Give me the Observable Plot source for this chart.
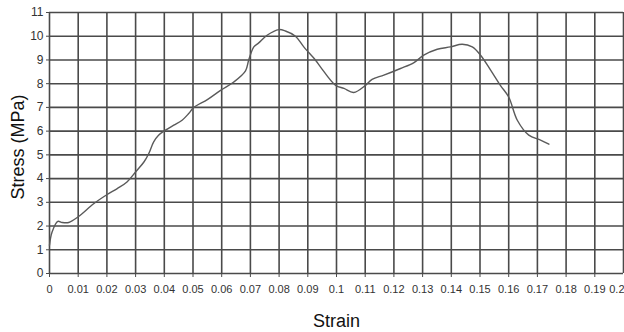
<!DOCTYPE html>
<html>
<head>
<meta charset="utf-8">
<script src="https://cdn.jsdelivr.net/npm/d3@7"></script>
<script src="https://cdn.jsdelivr.net/npm/@observablehq/plot@0.6"></script>
<style>
  html, body { margin: 0; padding: 0; background: #fff; }
  #chart svg { display: block; }
</style>
</head>
<body>
<div id="chart"></div>
<script>
const strain = [0, 0.0009, 0.0029, 0.0044, 0.0067, 0.01, 0.0155, 0.0201, 0.0236, 0.027, 0.030, 0.0329, 0.0346, 0.0363, 0.038, 0.0404, 0.0433, 0.0462, 0.0485, 0.0503, 0.055, 0.0596, 0.0642, 0.0683, 0.0694, 0.0712, 0.0729, 0.0758, 0.0799, 0.0822, 0.0857, 0.0886, 0.0927, 0.0944, 0.0997, 0.1026, 0.106, 0.1101, 0.1124, 0.1165, 0.1223, 0.127, 0.1304, 0.1351, 0.1397, 0.1438, 0.1473, 0.1502, 0.1537, 0.1571, 0.16, 0.163, 0.167, 0.1711, 0.174];
const stress = [1.19, 1.75, 2.2, 2.15, 2.15, 2.39, 2.95, 3.33, 3.58, 3.86, 4.28, 4.7, 5.06, 5.55, 5.83, 6.04, 6.25, 6.46, 6.74, 7.0, 7.33, 7.72, 8.07, 8.54, 8.99, 9.55, 9.72, 10.04, 10.28, 10.22, 10.0, 9.55, 8.99, 8.71, 7.93, 7.8, 7.63, 7.93, 8.18, 8.36, 8.64, 8.89, 9.2, 9.45, 9.55, 9.66, 9.55, 9.2, 8.57, 7.93, 7.44, 6.46, 5.83, 5.62, 5.45];
const xTicks = [0, 0.01, 0.02, 0.03, 0.04, 0.05, 0.06, 0.07, 0.08, 0.09, 0.1, 0.11, 0.12, 0.13, 0.14, 0.15, 0.16, 0.17, 0.18, 0.19, 0.2];
const xTickLabels = ["0", "0.01", "0.02", "0.03", "0.04", "0.05", "0.06", "0.07", "0.08", "0.09", "0.1", "0.11", "0.12", "0.13", "0.14", "0.15", "0.16", "0.17", "0.18", "0.19", "0.2"];
const yTicks = [0, 1, 2, 3, 4, 5, 6, 7, 8, 9, 10, 11];
const xTitle = "Strain";
const yTitle = "Stress (MPa)";

const data = strain.map((s, i) => ({strain: s, stress: stress[i]}));
const lastTick = xTicks[xTicks.length - 1];
const innerTicks = xTicks.slice(0, -1);

const axisFont = "'Liberation Sans Narrow', 'Liberation Sans', Arial, sans-serif";
const titleFont = "'Liberation Sans', Arial, sans-serif";

const chart = Plot.plot({
  width: 624,
  height: 332,
  marginLeft: 49,
  marginRight: 1,
  marginTop: 12,
  marginBottom: 59,
  style: {fontFamily: axisFont, fontSize: "11px", color: "#333", background: "#fff", overflow: "visible"},
  x: {domain: [0, 0.2], ticks: xTicks, label: null},
  y: {domain: [0, 11], ticks: yTicks, label: null},
  marks: [
    Plot.gridX(xTicks, {stroke: "#4a4a4a", strokeOpacity: 1, strokeWidth: 1.6}),
    Plot.gridY(yTicks, {stroke: "#4a4a4a", strokeOpacity: 1, strokeWidth: 1.6}),
    Plot.axisX(innerTicks, {tickSize: 4, tickPadding: 8, tickFormat: (d, i) => xTickLabels[i], stroke: "#4a4a4a"}),
    Plot.axisX([lastTick], {tickSize: 4, tickPadding: 8, tickFormat: () => xTickLabels[xTickLabels.length - 1], textAnchor: "end", dx: 1, stroke: "#4a4a4a"}),
    Plot.axisY(yTicks, {tickSize: 3, tickPadding: 3, fontSize: 12, tickFormat: d => String(d), stroke: "#4a4a4a"}),
    Plot.line(data, {x: "strain", y: "stress", stroke: "#5a5a5a", strokeWidth: 1.4, curve: "catmull-rom"}),
    Plot.text([xTitle], {frameAnchor: "bottom", lineAnchor: "bottom", dy: 53, fontSize: 18, fill: "#111", fontFamily: titleFont}),
    Plot.text([yTitle], {frameAnchor: "left", textAnchor: "middle", dx: -31, dy: 4, rotate: -90, fontSize: 18, fill: "#111", fontFamily: titleFont})
  ]
});
document.getElementById("chart").appendChild(chart);
</script>
</body>
</html>
